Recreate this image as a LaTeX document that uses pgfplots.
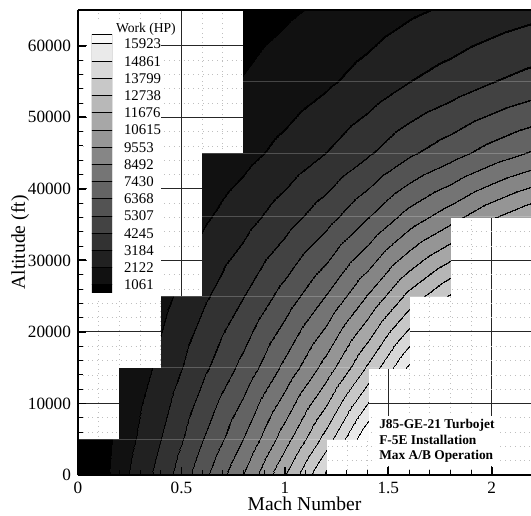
\documentclass[border=0pt]{standalone}
\usepackage{fontspec}
\setmainfont{Liberation Serif}
\usepackage{pgfplots}
\usepackage{pgfplotstable}
\pgfplotsset{compat=1.18}

\pgfplotsset{
  layers/gridunder/.define layer set={axis background,axis grid,pre main,main,axis ticks,axis lines,axis tick labels,axis descriptions,axis foreground}{/pgfplots/layers/standard},
  colormap={workmap}{
    gray(0pt)=(0) gray(100.6pt)=(0) gray(100.7pt)=(0.065)
    gray(140.72pt)=(0.065) gray(140.82pt)=(0) gray(142.02pt)=(0) gray(142.12pt)=(0.13)
    gray(172.51pt)=(0.13) gray(172.61pt)=(0) gray(173.81pt)=(0) gray(173.91pt)=(0.195)
    gray(199.3pt)=(0.195) gray(199.4pt)=(0) gray(200.6pt)=(0) gray(200.7pt)=(0.26)
    gray(222.91pt)=(0.26) gray(223.01pt)=(0) gray(224.21pt)=(0) gray(224.31pt)=(0.325)
    gray(244.25pt)=(0.325) gray(244.35pt)=(0) gray(245.55pt)=(0) gray(245.65pt)=(0.39)
    gray(263.88pt)=(0.39) gray(263.98pt)=(0) gray(265.18pt)=(0) gray(265.28pt)=(0.455)
    gray(282.14pt)=(0.455) gray(282.24pt)=(0) gray(283.44pt)=(0) gray(283.54pt)=(0.52)
    gray(299.3pt)=(0.52) gray(299.4pt)=(0) gray(300.6pt)=(0) gray(300.7pt)=(0.585)
    gray(315.53pt)=(0.585) gray(315.63pt)=(0) gray(316.83pt)=(0) gray(316.93pt)=(0.65)
    gray(330.96pt)=(0.65) gray(331.06pt)=(0) gray(332.26pt)=(0) gray(332.36pt)=(0.715)
    gray(345.71pt)=(0.715) gray(345.81pt)=(0) gray(347.01pt)=(0) gray(347.11pt)=(0.78)
    gray(359.86pt)=(0.78) gray(359.96pt)=(0) gray(361.16pt)=(0) gray(361.26pt)=(0.845)
    gray(373.47pt)=(0.845) gray(373.57pt)=(0) gray(374.77pt)=(0) gray(374.87pt)=(0.91)
    gray(386.6pt)=(0.91) gray(386.7pt)=(0) gray(387.9pt)=(0) gray(388pt)=(0.975)
    gray(400pt)=(0.975)
  },
  colormap={legendmap}{gray(0pt)=(0) gray(15pt)=(0.975)},
  colormap={seammap}{gray(0pt)=(1) gray(1pt)=(1)},
}

% Work (HP) at the mesh nodes, nan = no data
\pgfplotstableread{
mach alt work
0.0 0 0
0.2 0 1750
0.4 0 3650
0.6 0 6000
0.8 0 8500
1.0 0 11650
1.2 0 15100
1.4 0 nan
1.6 0 nan
1.8 0 nan
2.0 0 nan
2.2 0 nan
0.0 5000 0
0.2 5000 1531
0.4 5000 3194
0.6 5000 5250
0.8 5000 7438
1.0 5000 10194
1.2 5000 13213
1.4 5000 17063
1.6 5000 nan
1.8 5000 nan
2.0 5000 nan
2.2 5000 nan
0.0 15000 nan
0.2 15000 1164
0.4 15000 2427
0.6 15000 3990
0.8 15000 5653
1.0 15000 7747
1.2 15000 10042
1.4 15000 12968
1.6 15000 16160
1.8 15000 nan
2.0 15000 nan
2.2 15000 nan
0.0 25000 nan
0.2 25000 nan
0.4 25000 1807
0.6 25000 2970
0.8 25000 4208
1.0 25000 5767
1.2 25000 7475
1.4 25000 9653
1.6 25000 12029
1.8 25000 13910
2.0 25000 nan
2.2 25000 nan
0.0 36089 nan
0.2 36089 nan
0.4 36089 nan
0.6 36089 1950
0.8 36089 2763
1.0 36089 3786
1.2 36089 4908
1.4 36089 6338
1.6 36089 7898
1.8 36089 9133
2.0 36089 10498
2.2 36089 11603
0.0 45000 nan
0.2 45000 nan
0.4 45000 nan
0.6 45000 1270
0.8 45000 1799
1.0 45000 2466
1.2 45000 3197
1.4 45000 4128
1.6 45000 5144
1.8 45000 5949
2.0 45000 6838
2.2 45000 7558
0.0 55000 nan
0.2 55000 nan
0.4 55000 nan
0.6 55000 nan
0.8 55000 1114
1.0 55000 1526
1.2 55000 1978
1.4 55000 2555
1.6 55000 3183
1.8 55000 3681
2.0 55000 4231
2.2 55000 4677
0.0 65000 nan
0.2 65000 nan
0.4 65000 nan
0.6 65000 nan
0.8 65000 689
1.0 65000 944
1.2 65000 1223
1.4 65000 1580
1.6 65000 1968
1.8 65000 2276
2.0 65000 2616
2.2 65000 2892
}\worktable

\pgfplotstableread{
x y k
0 0.53 0
1 0.53 0
0 1 1
1 1 1
0 2 2
1 2 2
0 3 3
1 3 3
0 4 4
1 4 4
0 5 5
1 5 5
0 6 6
1 6 6
0 7 7
1 7 7
0 8 8
1 8 8
0 9 9
1 9 9
0 10 10
1 10 10
0 11 11
1 11 11
0 12 12
1 12 12
0 13 13
1 13 13
0 14 14
1 14 14
0 15 15
1 15 15
0 15.52 15
1 15.52 15
}\legendtable

\begin{document}
\begin{tikzpicture}
\begin{axis}[
  at={(0pt,0pt)}, anchor=south west,
  scale only axis, width=226.5pt, height=232.5pt,
  set layers=gridunder,
  xmin=0, xmax=2.19, ymin=0, ymax=65000,
  axis x line*=box, axis y line*=left,
  xtick pos=left,
  xtick={0,0.5,1,1.5,2}, ytick={0,10000,20000,30000,40000,50000,60000},
  minor x tick num=4, minor y tick num=4,
  tick align=inside,
  major tick length=4pt, minor tick length=2.4pt,
  every major tick/.append style={line width=0.9pt, black},
  every minor tick/.append style={line width=0.45pt, black},
  axis line style={line width=1pt},
  grid=both,
  major grid style={black!85, line width=0.5pt},
  minor grid style={black!25, dotted, line width=0.3pt},
  scaled y ticks=false,
  yticklabel style={/pgf/number format/fixed, /pgf/number format/1000 sep={}},
  tick label style={/pgf/number format/assume math mode=true, font=\fontsize{8.6}{10}\selectfont},
  xlabel={Mach Number}, ylabel={Altitude (ft)},
  label style={font=\fontsize{9.8}{11}\selectfont},
  xlabel style={at={(axis description cs:0.5,0)}, anchor=base, yshift=-17.5pt},
  ylabel style={at={(axis description cs:-0.128,0.5)}, anchor=center},
  colormap name=workmap,
  point meta min=0, point meta max=130.32,
  unbounded coords=jump,
]
\addplot[surf, shader=interp, mesh/cols=12,
  point meta={sqrt(\thisrow{work})}]
  table[x=mach, y expr={\thisrow{alt}+0*\thisrow{work}}] {\worktable};
% faint seams between the mesh cells
\addplot[mesh, colormap name=seammap, opacity=0.22, line width=0.5pt, mesh/cols=12,
  point meta={sqrt(\thisrow{work})}]
  table[x=mach, y expr={\thisrow{alt}+0*\thisrow{work}}] {\worktable};
\node[anchor=west, fill=white, inner sep=1.5pt, align=left,
  font=\bfseries\fontsize{6.7}{7.8}\selectfont]
  at (axis cs:1.44,4750) {J85-GE-21 Turbojet\\F-5E Installation\\Max A/B Operation};
\end{axis}

\fill[white] (4.5pt,88.5pt) rectangle (41.5pt,227.5pt);
\node[anchor=base west, font=\fontsize{6.8}{8}\selectfont] at (15.5pt,221pt) {Work (HP)};

\begin{axis}[
  at={(7pt,91pt)}, anchor=south west,
  scale only axis, width=10pt, height=129pt,
  xmin=0, xmax=1, ymin=0.53, ymax=15.52,
  axis line style={draw=none}, xtick=\empty,
  ytick={1,2,3,4,5,6,7,8,9,10,11,12,13,14,15},
  yticklabels={1061,2122,3184,4245,5307,6368,7430,8492,9553,10615,11676,12738,13799,14861,15923},
  yticklabel pos=right, ytick style={draw=none},
  yticklabel style={font=\fontsize{7.4}{8.5}\selectfont, xshift=2.5pt},
  colormap name=legendmap,
  point meta min=0, point meta max=15,
]
\addplot[surf, shader=flat corner, draw=black, line width=0.5pt, mesh/cols=2,
  point meta=explicit] table[x=x, y=y, meta=k] {\legendtable};
\end{axis}

\pgfresetboundingbox
\useasboundingbox (-39pt,-20pt) rectangle (226.5pt,237.5pt);
\end{tikzpicture}
\end{document}
